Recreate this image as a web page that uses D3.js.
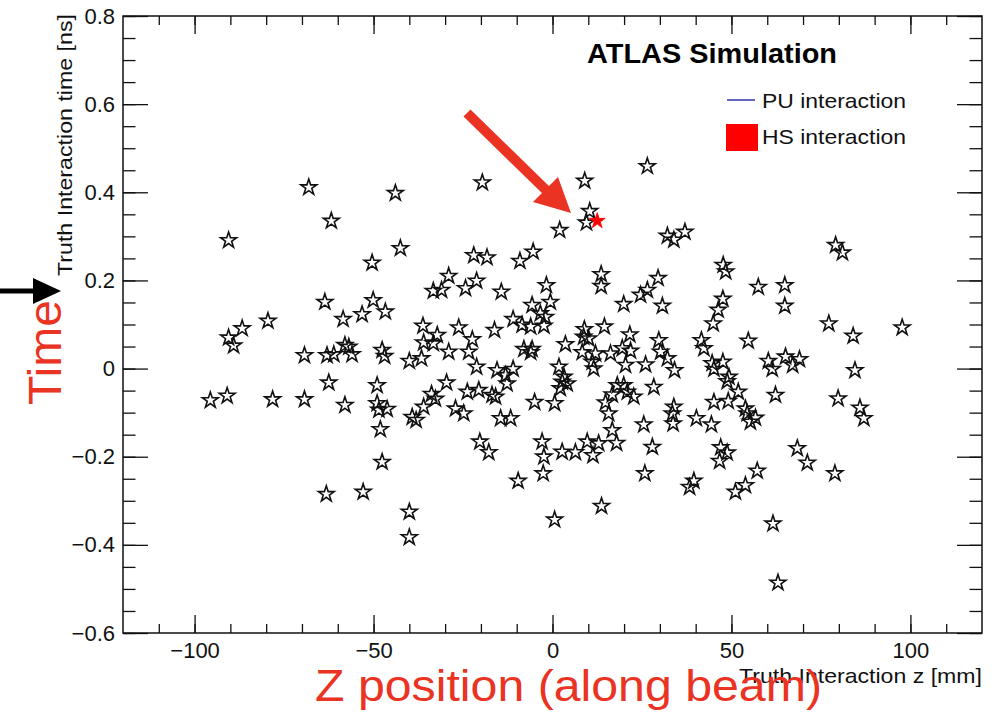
<!DOCTYPE html>
<html>
<head>
<meta charset="utf-8">
<script src="https://cdn.jsdelivr.net/npm/d3@7"></script>
<style>
  body { margin: 0; background: #fff; }
  svg { display: block; }
  text { font-family: "Liberation Sans", Arial, Helvetica, sans-serif; }
</style>
</head>
<body>
<svg id="chart" width="1004" height="714"></svg>
<script>
// Pile-up (PU) vertices: truth z position [mm] and truth time [ns]
const puZ = [
  -68.1, -43.9, -61.8, -90.5, -42.5, -50.4, -19.6, 9.0, 26.5, 2.0,
  10.4, 9.5, 32.1, 33.9, 37.0, -22.0, -18.3, -9.1, -5.4, -29.0,
  -21.2, -24.3, -33.3, -31.0, -14.3, -1.7, 13.6, 13.6, 29.5, 26.5,
  24.6, 79.1, 81.0, 47.7, 48.4, 57.5, 64.9, 47.6, 64.9, -63.6,
  -50.1, -86.7, -90.5, -89.1, -79.5, -58.5, -53.2, -46.7, -36.2, -36.0,
  -33.3, -32.2, -69.3, -63.0, -61.1, -58.0, -56.9, -56.0, -47.6, -46.9,
  -40.0, -36.6, -62.5, -49.0, -95.6, -90.9, -78.2, -69.3, -58.0, -49.0,
  -48.5, -46.2, -48.1, -39.2, -38.1, -36.0, -33.8, -32.7, -5.7, -0.6,
  -3.4, -2.0, -11.0, -8.5, -6.1, -2.4, -26.2, -16.2, -22.4, -29.0,
  -23.4, -8.0, -5.7, -6.1, -21.2, -15.5, -11.0, -13.1, -12.7, -29.6,
  -23.8, -20.6, -16.9, -15.9, -5.0, 0.6, -27.1, -24.8, -14.5, -11.7,
  19.9, 30.7, 14.5, 8.9, 8.7, 10.1, 3.6, 21.6, 29.7, 30.2,
  32.1, 8.3, 12.0, 16.2, 19.5, 21.8, 11.1, 11.5, 1.8, 3.2,
  2.7, 4.1, 2.2, 20.4, 26.0, 34.1, 18.1, 19.9, 20.9, 22.7,
  16.7, 14.8, 28.3, 15.7, 16.7, 25.5, 33.9, 33.5, 33.7, 46.3,
  44.9, 77.2, 84.0, 97.7, 41.6, 42.3, 54.7, 44.6, 45.1, 47.6,
  49.3, 48.8, 60.3, 61.4, 65.1, 67.1, 69.0, 84.5, 51.9, 62.3,
  45.1, 49.1, 53.9, 54.4, 56.7, 55.3, 40.2, 44.4, 79.8, 85.9,
  87.0, -47.6, -63.2, -52.9, -40.0, -40.0, -20.3, -17.8, -2.9, -2.4,
  -2.6, -9.6, 2.7, 6.4, 9.7, 12.9, 11.3, 17.9, 27.9, 25.8,
  13.7, 0.6, 47.0, 48.8, 46.7, 39.5, 38.3, 57.2, 53.9, 51.1,
  68.4, 71.2, 78.9, 61.6, 63.0
];
const puT = [
  0.411, 0.398, 0.335, 0.291, 0.273, 0.240, 0.422, 0.426, 0.459, 0.314,
  0.357, 0.331, 0.301, 0.292, 0.310, 0.257, 0.252, 0.244, 0.265, 0.210,
  0.199, 0.182, 0.176, 0.178, 0.174, 0.189, 0.214, 0.187, 0.205, 0.178,
  0.167, 0.280, 0.263, 0.235, 0.220, 0.185, 0.189, 0.158, 0.142, 0.151,
  0.155, 0.091, 0.070, 0.052, 0.108, 0.112, 0.123, 0.129, 0.097, 0.059,
  0.057, 0.076, 0.030, 0.030, 0.032, 0.053, 0.049, 0.032, 0.042, 0.028,
  0.017, 0.023, -0.032, -0.038, -0.072, -0.062, -0.070, -0.070, -0.083, -0.079,
  -0.094, -0.092, -0.138, -0.110, -0.117, -0.087, -0.058, -0.069, 0.144, 0.151,
  0.125, 0.117, 0.112, 0.099, 0.095, 0.097, 0.093, 0.087, 0.066, 0.038,
  0.038, 0.044, 0.044, 0.037, 0.004, -0.004, -0.001, -0.015, -0.034, -0.032,
  -0.053, -0.049, -0.060, -0.064, -0.076, -0.079, -0.091, -0.102, -0.113, -0.113,
  0.146, 0.142, 0.095, 0.089, 0.072, 0.068, 0.055, 0.077, 0.064, 0.038,
  0.023, 0.037, 0.034, 0.034, 0.046, 0.040, 0.015, 0.000, 0.004, -0.019,
  -0.030, -0.034, -0.045, 0.008, 0.009, -0.004, -0.038, -0.038, -0.053, -0.064,
  -0.059, -0.077, -0.042, -0.102, -0.140, -0.127, -0.087, -0.102, -0.125, 0.133,
  0.102, 0.102, 0.074, 0.093, 0.064, 0.046, 0.063, 0.012, -0.001, 0.015,
  -0.019, -0.029, 0.017, -0.001, 0.027, 0.008, 0.021, -0.004, -0.053, -0.060,
  -0.076, -0.074, -0.091, -0.102, -0.112, -0.121, -0.113, -0.127, -0.068, -0.089,
  -0.113, -0.212, -0.285, -0.280, -0.325, -0.383, -0.166, -0.190, -0.166, -0.200,
  -0.238, -0.255, -0.189, -0.190, -0.166, -0.170, -0.197, -0.169, -0.178, -0.238,
  -0.312, -0.343, -0.179, -0.191, -0.210, -0.255, -0.269, -0.232, -0.265, -0.280,
  -0.181, -0.214, -0.238, -0.352, -0.486
];
// Hard-scatter (HS) vertex
const hsZ = [12.5];
const hsT = [0.335];

// Axis ranges and tick positions
const zRange = [-120, 120];
const tRange = [-0.6, 0.8];
const zMajor = [-100, -50, 0, 50, 100];
const zMinor = d3.range(-110, 111, 10);
const tMajor = [-0.6, -0.4, -0.2, 0, 0.2, 0.4, 0.6, 0.8];
const tMinor = d3.range(-0.6, 0.8001, 0.05).map(v => +v.toFixed(2));

const legendLabels = ["PU interaction", "HS interaction"];

const svg = d3.select("#chart");
const frame = { left: 123, top: 16, right: 982, bottom: 633 };

const x = d3.scaleLinear().domain(zRange).range([frame.left, frame.right]);
const y = d3.scaleLinear().domain(tRange).range([frame.bottom, frame.top]);

const fmtT = d => d === 0 ? "0" : d3.format(".1f")(d);
const fmtZ = d => d3.format("d")(d);

function styleAxis(g) {
  g.select(".domain").remove();
  g.selectAll(".tick line").attr("stroke", "#111").attr("stroke-width", 1.3);
  g.selectAll(".tick text").attr("fill", "#111").attr("font-size", 22)
    .attr("font-family", "'Liberation Sans', Arial, sans-serif");
}

// Bottom axis: labelled major ticks pointing into the frame, plus minor ticks
svg.append("g").attr("transform", `translate(0,${frame.bottom})`)
  .call(d3.axisBottom(x).tickValues(zMinor).tickSize(-9).tickFormat(""))
  .call(styleAxis);
svg.append("g").attr("transform", `translate(0,${frame.bottom})`)
  .call(d3.axisBottom(x).tickValues(zMajor).tickSize(-18).tickPadding(9).tickFormat(fmtZ))
  .call(styleAxis);
// Top axis (ticks only)
svg.append("g").attr("transform", `translate(0,${frame.top})`)
  .call(d3.axisTop(x).tickValues(zMinor).tickSize(-9).tickFormat(""))
  .call(styleAxis);
svg.append("g").attr("transform", `translate(0,${frame.top})`)
  .call(d3.axisTop(x).tickValues(zMajor).tickSize(-18).tickFormat(""))
  .call(styleAxis);

// Left axis
svg.append("g").attr("transform", `translate(${frame.left},0)`)
  .call(d3.axisLeft(y).tickValues(tMinor).tickSize(-12.5).tickFormat(""))
  .call(styleAxis);
svg.append("g").attr("transform", `translate(${frame.left},0)`)
  .call(d3.axisLeft(y).tickValues(tMajor).tickSize(-25).tickPadding(8).tickFormat(fmtT))
  .call(styleAxis);
// Right axis (ticks only)
svg.append("g").attr("transform", `translate(${frame.right},0)`)
  .call(d3.axisRight(y).tickValues(tMinor).tickSize(-12.5).tickFormat(""))
  .call(styleAxis);
svg.append("g").attr("transform", `translate(${frame.right},0)`)
  .call(d3.axisRight(y).tickValues(tMajor).tickSize(-25).tickFormat(""))
  .call(styleAxis);

// Frame
svg.append("rect")
  .attr("x", frame.left).attr("y", frame.top)
  .attr("width", frame.right - frame.left).attr("height", frame.bottom - frame.top)
  .attr("fill", "none").attr("stroke", "#111").attr("stroke-width", 1.5);

// Axis titles
svg.append("text")
  .attr("x", frame.right).attr("y", 683)
  .attr("text-anchor", "end").attr("font-size", 21).attr("fill", "#111")
  .attr("textLength", 243).attr("lengthAdjust", "spacingAndGlyphs")
  .text("Truth Interaction z [mm]");
svg.append("text")
  .attr("transform", "translate(72,14) rotate(-90)")
  .attr("text-anchor", "end").attr("font-size", 21).attr("fill", "#111")
  .attr("textLength", 262).attr("lengthAdjust", "spacingAndGlyphs")
  .text("Truth Interaction time [ns]");

// Markers
const star = d3.symbol().type(d3.symbolStar).size(78);
const puPts = puZ.map((z, i) => ({ z, t: puT[i] }));
svg.append("g").selectAll("path.pu")
  .data(puPts).join("path")
  .attr("class", "pu")
  .attr("transform", d => `translate(${x(d.z)},${y(d.t)})`)
  .attr("d", star)
  .attr("fill", "none").attr("stroke", "#111").attr("stroke-width", 1.6)
  .attr("stroke-linejoin", "miter");

const hsPts = hsZ.map((z, i) => ({ z, t: hsT[i] }));
svg.append("g").selectAll("path.hs")
  .data(hsPts).join("path")
  .attr("class", "hs")
  .attr("transform", d => `translate(${x(d.z)},${y(d.t)})`)
  .attr("d", star)
  .attr("fill", "#ff0000").attr("stroke", "#ff0000").attr("stroke-width", 0.8);

// Experiment label
svg.append("text")
  .attr("x", 587).attr("y", 63)
  .attr("font-size", 27).attr("font-weight", "bold").attr("fill", "#000")
  .attr("textLength", 250).attr("lengthAdjust", "spacingAndGlyphs")
  .text("ATLAS Simulation");

// Legend
const leg = svg.append("g");
leg.append("line")
  .attr("x1", 727).attr("x2", 755).attr("y1", 100).attr("y2", 100)
  .attr("stroke", "#3535a5").attr("stroke-width", 1.5);
leg.append("rect")
  .attr("x", 726).attr("y", 124).attr("width", 32).attr("height", 27)
  .attr("fill", "#ff0000");
leg.selectAll("text.lg").data(legendLabels).join("text")
  .attr("class", "lg")
  .attr("x", 762).attr("y", (d, i) => 108 + i * 36)
  .attr("font-size", 21).attr("fill", "#111")
  .attr("textLength", 144).attr("lengthAdjust", "spacingAndGlyphs")
  .text(d => d);

// Annotations
const red = "#ea3323";
// Arrow pointing at the hard-scatter vertex
svg.append("line")
  .attr("x1", 467).attr("y1", 113).attr("x2", 548).attr("y2", 192)
  .attr("stroke", red).attr("stroke-width", 10);
svg.append("path")
  .attr("d", "M533,202 L558,177 L571,213 Z")
  .attr("fill", red);

// Arrow pointing at the vertical axis
svg.append("line")
  .attr("x1", 0).attr("y1", 291).attr("x2", 36).attr("y2", 291)
  .attr("stroke", "#000").attr("stroke-width", 5);
svg.append("path")
  .attr("d", "M33,278 L61,291 L33,304 Z")
  .attr("fill", "#000");

svg.append("text")
  .attr("transform", "translate(61,405) rotate(-90)")
  .attr("font-family", "Lato, 'Open Sans', sans-serif")
  .attr("font-size", 46).attr("fill", red)
  .attr("textLength", 105).attr("lengthAdjust", "spacingAndGlyphs")
  .text("Time");

svg.append("text")
  .attr("x", 315).attr("y", 701)
  .attr("font-family", "Lato, 'Open Sans', sans-serif")
  .attr("font-size", 44).attr("fill", red)
  .attr("textLength", 507).attr("lengthAdjust", "spacingAndGlyphs")
  .text("Z position (along beam)");
</script>
</body>
</html>
